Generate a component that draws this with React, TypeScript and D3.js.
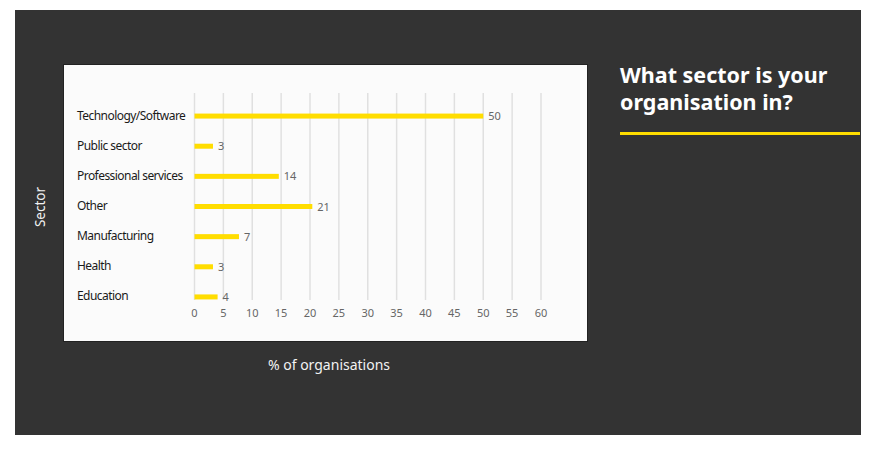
import React from "react";
import * as d3 from "d3";

const categories = [
  "Technology/Software",
  "Public sector",
  "Professional services",
  "Other",
  "Manufacturing",
  "Health",
  "Education",
];
// bar lengths
const values = [50, 3.2, 14.6, 20.4, 7.7, 3.2, 4];
// value labels as printed on the picture
const valueLabels = ["50", "3", "14", "21", "7", "3", "4"];
const xTicks = [0, 5, 10, 15, 20, 25, 30, 35, 40, 45, 50, 55, 60];
const titleLines = ["What sector is your", "organisation in?"];
const xAxisTitle = "% of organisations";
const yAxisTitle = "Sector";

const FONT = "'Noto Sans', 'Open Sans', sans-serif";

export default function App() {
  const x = d3.scaleLinear().domain([0, 60]).range([194.5, 541]);
  const y = d3.scaleBand<string>().domain(categories).range([101, 312]).padding(0);
  const barH = 5;
  const gridTop = 93;
  const gridBottom = 300;

  return (
    <svg
      width={872}
      height={451}
      style={{ position: "absolute", left: 0, top: 0, display: "block" }}
    >
      <rect x={0} y={0} width={872} height={451} fill="#ffffff" />
      <rect x={15} y={10} width={846} height={425} fill="#333333" />
      {/* chart panel */}
      <rect x={63.5} y={64.5} width={524} height={277} fill="#fbfbfb" stroke="#222" strokeWidth={1} />
      {/* gridlines */}
      {xTicks.map((t) => (
        <line
          key={"g" + t}
          x1={x(t)}
          x2={x(t)}
          y1={gridTop}
          y2={gridBottom}
          stroke="#e0e0e0"
          strokeWidth={1.5}
        />
      ))}
      {/* tick labels */}
      {xTicks.map((t) => (
        <text
          key={"t" + t}
          x={x(t)}
          y={317}
          textAnchor="middle"
          fontFamily={FONT}
          fontSize={11}
          fill="#666"
        >
          {t}
        </text>
      ))}
      {/* category labels */}
      {categories.map((c) => (
        <text
          key={"c" + c}
          x={77}
          y={(y(c) as number) + y.bandwidth() / 2 + 3.5}
          fontFamily={FONT}
          fontSize={12}
          letterSpacing={-0.55}
          fill="#1a1a1a"
        >
          {c}
        </text>
      ))}
      {/* bars */}
      {categories.map((c, i) => {
        const cy = (y(c) as number) + y.bandwidth() / 2;
        return (
          <g key={"b" + c}>
            <rect
              x={x(0)}
              y={cy - barH / 2}
              width={x(values[i]) - x(0)}
              height={barH}
              fill="#ffdd00"
            />
            <text
              x={x(values[i]) + 5}
              y={cy + 4}
              fontFamily={FONT}
              fontSize={11}
              fill="#666"
            >
              {valueLabels[i]}
            </text>
          </g>
        );
      })}
      {/* axis titles */}
      <text
        x={329}
        y={370}
        textAnchor="middle"
        fontFamily={FONT}
        fontSize={14}
        fill="#f2f2f2"
      >
        {xAxisTitle}
      </text>
      <text
        transform="translate(45,207) rotate(-90)"
        textAnchor="middle"
        fontFamily={FONT}
        fontSize={13.5}
        fill="#f2f2f2"
      >
        {yAxisTitle}
      </text>
      {/* title */}
      {titleLines.map((l, i) => (
        <text
          key={"title" + i}
          x={620}
          y={83 + i * 27}
          fontFamily={FONT}
          fontSize={21.5}
          fontWeight="bold"
          fill="#ffffff"
        >
          {l}
        </text>
      ))}
      <rect x={620} y={132} width={240} height={3} fill="#ffdd00" />
    </svg>
  );
}
